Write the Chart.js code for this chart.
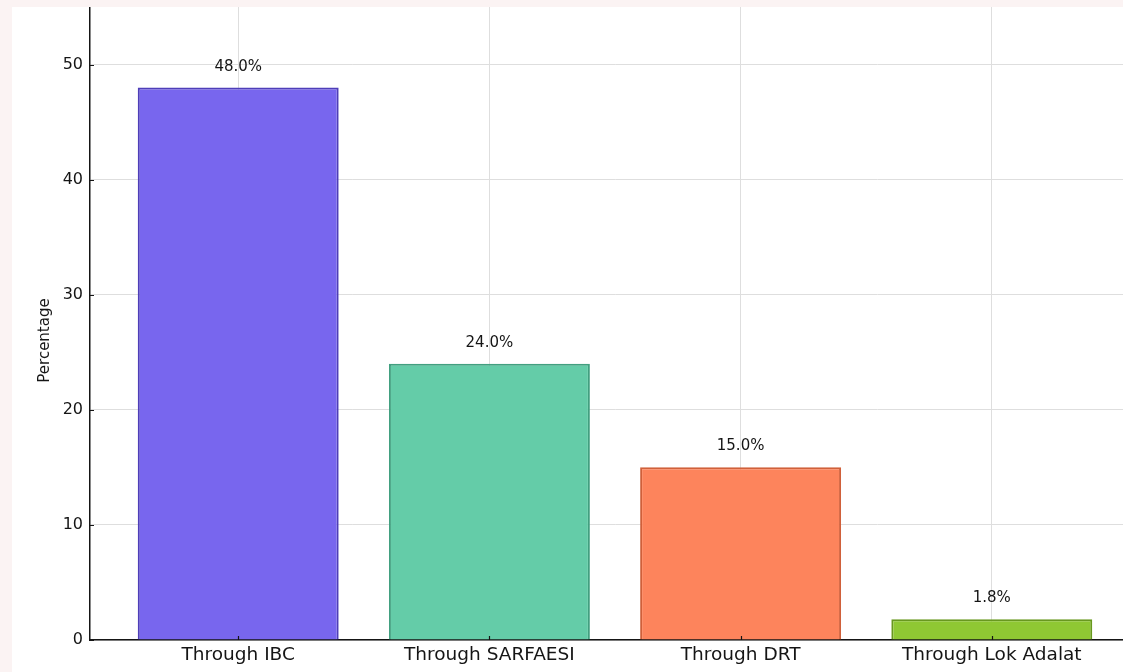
<!DOCTYPE html>
<html>
<head>
<meta charset="utf-8">
<script src="https://cdn.jsdelivr.net/npm/chart.js@4"></script>
<style>
  html, body { margin: 0; padding: 0; background: #fbf3f3; overflow: hidden; width: 1123px; height: 672px; }
  #sheet { position: absolute; left: 12px; top: 7px; right: 0; bottom: 0; background: #fff; }
  #wrap { position: absolute; left: 12px; top: 7px; width: 1128px; height: 665px; }
</style>
</head>
<body>
<div id="sheet"></div>
<div id="wrap"><canvas id="recoveryChart"></canvas></div>
<script>
const categories = ['Through IBC', 'Through SARFAESI', 'Through DRT', 'Through Lok Adalat'];
const shares = [48.0, 24.0, 15.0, 1.8];
const yTicks = [0, 10, 20, 30, 40, 50];
const fills = ['#7866ee', '#64cca8', '#fd845c', '#8fc833'];
const edges = ['#4e3eb8', '#42a080', '#d0603a', '#68981e'];

const font = 'DejaVu Sans';
const ink = '#151515';

// value text above each bar, the y title, and small inward tick marks
const extras = {
    id: 'extras',
    afterDatasetsDraw(chart) {
        const ctx = chart.ctx;
        const meta = chart.getDatasetMeta(0);
        ctx.save();
        ctx.fillStyle = ink;
        ctx.font = '15px "' + font + '"';
        ctx.textAlign = 'center';
        ctx.textBaseline = 'alphabetic';
        meta.data.forEach((bar, i) => {
            ctx.fillText(shares[i].toFixed(1) + '%', bar.x, bar.y - 17);
        });
        ctx.restore();
    },
    afterDraw(chart) {
        const ctx = chart.ctx;
        const { left, top, bottom } = chart.chartArea;
        const xs = chart.scales.x, ys = chart.scales.y;
        ctx.save();
        ctx.strokeStyle = ink;
        ctx.lineWidth = 1.2;
        ctx.beginPath();
        categories.forEach((c, i) => {
            const px = Math.round(xs.getPixelForValue(i)) + 0.5;
            ctx.moveTo(px, bottom);
            ctx.lineTo(px, bottom - 4);
        });
        yTicks.forEach(v => {
            const py = Math.round(ys.getPixelForValue(v)) + 0.5;
            ctx.moveTo(left, py);
            ctx.lineTo(left + 4, py);
        });
        ctx.stroke();

        ctx.translate(33, (top + bottom) / 2 + 17);
        ctx.rotate(-Math.PI / 2);
        ctx.fillStyle = ink;
        ctx.font = '15px "' + font + '"';
        ctx.textAlign = 'center';
        ctx.textBaseline = 'middle';
        ctx.fillText('Percentage', 0, 0);
        ctx.restore();
    }
};

const ctx = document.getElementById('recoveryChart').getContext('2d');
const recoveryChart = new Chart(ctx, {
    type: 'bar',
    data: {
        datasets: [{
            data: shares.map((v, i) => ({ x: i, y: v })),
            backgroundColor: fills,
            borderColor: edges,
            borderWidth: 2,
            barPercentage: 0.8,
            categoryPercentage: 1.0
        }]
    },
    options: {
        responsive: true,
        maintainAspectRatio: false,
        animation: false,
        layout: { padding: 0 },
        plugins: {
            legend: { display: false },
            tooltip: { enabled: false }
        },
        scales: {
            x: {
                type: 'linear',
                min: -0.59,
                max: 3.59,
                offset: false,
                afterBuildTicks: s => { s.ticks = categories.map((c, i) => ({ value: i })); },
                afterFit: s => { s.height = 32; s.paddingLeft = 0; s.paddingRight = 0; },
                ticks: {
                    callback: v => categories[v],
                    color: ink,
                    font: { family: font, size: 18.5 },
                    padding: 4,
                    maxRotation: 0,
                    autoSkip: false
                },
                grid: { color: '#dedede', lineWidth: 1, drawTicks: false, offset: false },
                border: { color: ink, width: 1.5 }
            },
            y: {
                min: 0,
                max: 55,
                afterBuildTicks: s => { s.ticks = yTicks.map(v => ({ value: v })); },
                afterFit: s => { s.width = 78; s.paddingTop = 0; s.paddingBottom = 0; },
                ticks: {
                    color: ink,
                    font: { family: font, size: 16 },
                    padding: 7
                },
                grid: { color: '#dedede', lineWidth: 1, drawTicks: false },
                border: { color: ink, width: 1.5 }
            }
        }
    },
    plugins: [extras]
});
</script>
</body>
</html>
